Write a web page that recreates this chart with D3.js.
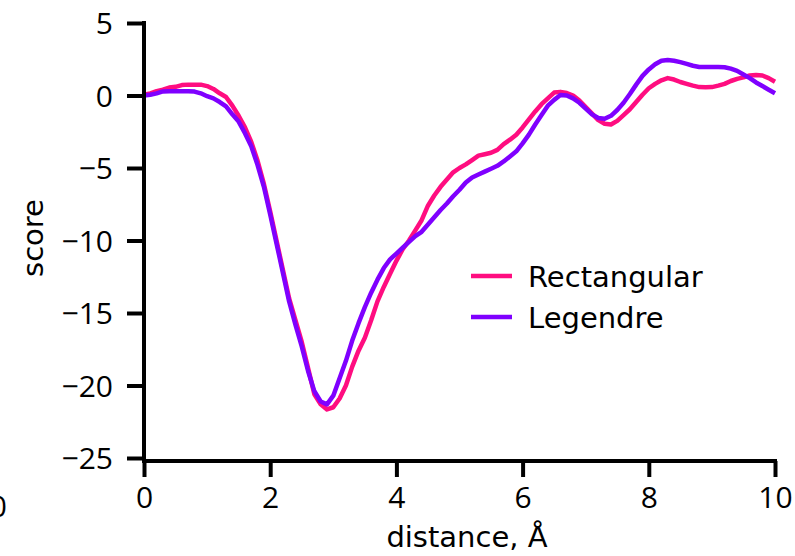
<!DOCTYPE html>
<html>
<head>
<meta charset="utf-8">
<script src="https://cdn.jsdelivr.net/npm/d3@7"></script>
<style>
  body { margin: 0; background: #fff; }
  svg { display: block; }
  text { font-family: "DejaVu Sans", sans-serif; }
</style>
</head>
<body>
<div class="content-container"></div>
<script>

// distance (Å) sampled every 0.1
const distance = [
  0.0, 0.1, 0.2, 0.3, 0.4, 0.5, 0.6, 0.7, 0.8, 0.9,
  1.0, 1.1, 1.2, 1.3, 1.4, 1.5, 1.6, 1.7, 1.8, 1.9,
  2.0, 2.1, 2.2, 2.3, 2.4, 2.5, 2.6, 2.7, 2.8, 2.9,
  3.0, 3.1, 3.2, 3.3, 3.4, 3.5, 3.6, 3.7, 3.8, 3.9,
  4.0, 4.1, 4.2, 4.3, 4.4, 4.5, 4.6, 4.7, 4.8, 4.9,
  5.0, 5.1, 5.2, 5.3, 5.4, 5.5, 5.6, 5.7, 5.8, 5.9,
  6.0, 6.1, 6.2, 6.3, 6.4, 6.5, 6.6, 6.7, 6.8, 6.9,
  7.0, 7.1, 7.2, 7.3, 7.4, 7.5, 7.6, 7.7, 7.8, 7.9,
  8.0, 8.1, 8.2, 8.3, 8.4, 8.5, 8.6, 8.7, 8.8, 8.9,
  9.0, 9.1, 9.2, 9.3, 9.4, 9.5, 9.6, 9.7, 9.8, 9.9,
  10.0
];

const rectangular = [
  0.05, 0.15, 0.3, 0.4, 0.55, 0.6, 0.72, 0.75, 0.75, 0.75,
  0.65, 0.45, 0.15, -0.1, -0.7, -1.4, -2.2, -3.2, -4.5, -6.1,
  -8.0, -10.0, -12.0, -14.0, -15.5, -17.0, -18.8, -20.6, -21.3, -21.65,
  -21.5, -20.9, -20.0, -18.7, -17.6, -16.7, -15.5, -14.2, -13.2, -12.3,
  -11.4, -10.6, -10.0, -9.3, -8.6, -7.6, -6.9, -6.3, -5.8, -5.3,
  -5.0, -4.75, -4.45, -4.15, -4.05, -3.95, -3.75, -3.35, -3.05, -2.7,
  -2.2, -1.65, -1.1, -0.6, -0.2, 0.2, 0.25, 0.17, 0.0, -0.35,
  -0.8, -1.25, -1.7, -1.95, -2.0, -1.75, -1.35, -0.95, -0.45, 0.05,
  0.5, 0.8, 1.05, 1.2, 1.1, 0.93, 0.8, 0.68, 0.58, 0.57,
  0.58, 0.68, 0.8, 1.0, 1.15, 1.25, 1.38, 1.42, 1.38, 1.2,
  0.95
];

const legendre = [
  0.0, 0.05, 0.15, 0.28, 0.3, 0.3, 0.3, 0.3, 0.27, 0.15,
  -0.05, -0.2, -0.45, -0.75, -1.3, -1.8, -2.6, -3.5, -4.8, -6.3,
  -8.2, -10.2, -12.2, -14.2, -15.8, -17.3, -19.0, -20.4, -21.1, -21.3,
  -20.7, -19.5, -18.3, -16.9, -15.7, -14.6, -13.6, -12.7, -11.9, -11.3,
  -10.9, -10.5, -10.1, -9.7, -9.4, -8.9, -8.4, -7.9, -7.45, -6.95,
  -6.5, -6.0, -5.65, -5.45, -5.25, -5.05, -4.85, -4.55, -4.2, -3.85,
  -3.3, -2.7, -2.0, -1.35, -0.7, -0.3, 0.03, 0.0, -0.2, -0.5,
  -0.9, -1.3, -1.55, -1.6, -1.4, -1.0, -0.5, 0.1, 0.75, 1.35,
  1.8, 2.15, 2.4, 2.45, 2.4, 2.3, 2.18, 2.05, 1.97, 1.96,
  1.96, 1.96, 1.95, 1.85, 1.7, 1.45, 1.2, 0.9, 0.65, 0.4,
  0.15
];

const seriesNames = ["Rectangular", "Legendre"];
const seriesColors = ["#ff0d80", "#7f00ff"];
const xTicks = [0, 2, 4, 6, 8, 10];
const yTicks = [5, 0, -5, -10, -15, -20, -25];

const width = 795;
const height = 556;
const axisY = 461;

const xScale = d3.scaleLinear().domain([0, 10]).range([144, 775]);
const yScale = d3.scaleLinear().domain([-25, 5]).range([458, 23]);

const chart = d3.select(".content-container")
  .append("svg")
  .attr("width", width)
  .attr("height", height);

// clipped label from a neighbouring panel
chart.append("text")
  .attr("x", 7)
  .attr("y", 517)
  .attr("text-anchor", "end")
  .style("font-family", "'Open Sans', sans-serif")
  .attr("font-size", "30px")
  .text("0");

// LINES
const line = d3.line()
  .x((d, i) => xScale(distance[i]))
  .y((d) => yScale(d));

[rectangular, legendre].forEach(function (values, k) {
  chart.append("path")
    .datum(values)
    .attr("fill", "none")
    .attr("stroke", seriesColors[k])
    .attr("stroke-width", 4.5)
    .attr("stroke-linejoin", "round")
    .attr("d", line);
});

// AXES
const xAxis = d3.axisBottom(xScale).tickValues(xTicks).tickSize(16).tickSizeOuter(0).tickPadding(10);
const gx = chart.append("g")
  .attr("transform", "translate(0," + axisY + ")")
  .call(xAxis);

const yAxis = d3.axisLeft(yScale).tickValues(yTicks).tickSize(17).tickSizeOuter(0).tickPadding(14)
  .tickFormat((d) => d < 0 ? "\u2212" + Math.abs(d) : d);
const gy = chart.append("g")
  .attr("transform", "translate(" + xScale(0) + ",0)")
  .call(yAxis);

[gx, gy].forEach(function (g) {
  g.select(".domain").remove();
  g.selectAll(".tick line").attr("stroke", "#000").attr("stroke-width", 4);
  g.selectAll(".tick text")
    .attr("fill", "#000")
    .style("font-family", "'Open Sans', sans-serif")
    .style("font-size", "30px");
});
gy.selectAll(".tick text").attr("dy", "0.36em");

chart.append("line")
  .attr("x1", xScale(0)).attr("x2", xScale(0))
  .attr("y1", yScale(5) - 2).attr("y2", axisY + 2)
  .attr("stroke", "#000").attr("stroke-width", 4);

chart.append("line")
  .attr("x1", xScale(0) - 2).attr("x2", xScale(10) + 2)
  .attr("y1", axisY).attr("y2", axisY)
  .attr("stroke", "#000").attr("stroke-width", 4);

// AXIS TITLES
chart.append("text")
  .attr("x", 467)
  .attr("y", 547)
  .attr("text-anchor", "middle")
  .attr("font-size", "29px")
  .text("distance, \u00c5");

chart.append("text")
  .attr("transform", "translate(43,238) rotate(-90)")
  .attr("text-anchor", "middle")
  .attr("font-size", "29px")
  .text("score");

// LEGEND
const legendY = [276, 317];
seriesNames.forEach(function (name, k) {
  chart.append("line")
    .attr("x1", 471).attr("x2", 512)
    .attr("y1", legendY[k]).attr("y2", legendY[k])
    .attr("stroke", seriesColors[k])
    .attr("stroke-width", 4.5);
  chart.append("text")
    .attr("x", 528)
    .attr("y", legendY[k] + 11)
    .attr("font-size", "29px")
    .text(name);
});

</script>
</body>
</html>
